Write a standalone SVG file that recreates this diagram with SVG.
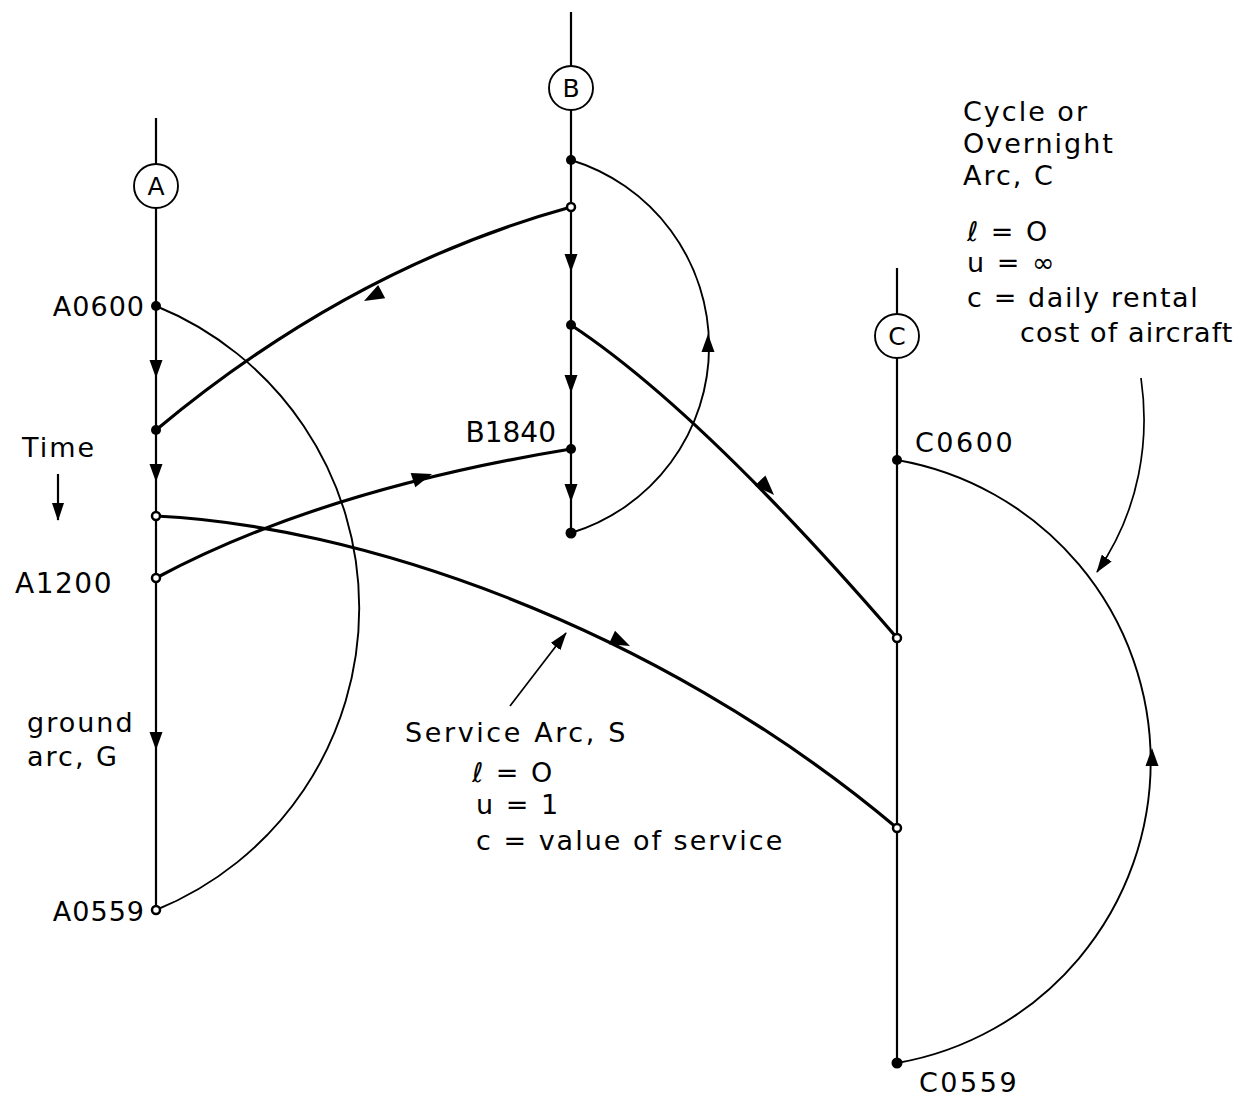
<svg xmlns="http://www.w3.org/2000/svg" xmlns:xlink="http://www.w3.org/1999/xlink" width="1252" height="1097" viewBox="0 0 1252 1097">
<style>
.t{font-family:"DejaVu Sans","Liberation Sans",sans-serif;font-size:27px;fill:#000;letter-spacing:2px}
.g{stroke:#000;stroke-width:2.2;fill:none}
.s{stroke:#000;stroke-width:3.2;fill:none}
.c{stroke:#000;stroke-width:1.9;fill:none}
.p{stroke:#000;stroke-width:1.7;fill:none}
.nf{fill:#000}
.no{fill:#fff;stroke:#000;stroke-width:2.5}
.ci{fill:#fff;stroke:#000;stroke-width:1.9}
.cl{font-size:25px;letter-spacing:0;text-anchor:middle}
</style>
<defs>
<path id="ah" d="M0,0 L-18,-6.5 L-18,6.5 Z" fill="#000"/>
<path id="ahs" d="M0,0 L-20,-7.5 L-20,7.5 Z" fill="#000"/>
<marker id="mk" markerWidth="18" markerHeight="12" refX="17" refY="6" orient="auto" markerUnits="userSpaceOnUse"><path d="M0,0 L18,6 L0,12 Z" fill="#000"/></marker>
</defs>
<rect width="1252" height="1097" fill="#fff"/>
<g id="connectors">
<!-- ground lines -->
<path class="g" d="M156,118 V910"/>
<path class="g" d="M571,12 V533"/>
<path class="g" d="M897,268 V1063"/>
<use xlink:href="#ah" transform="translate(156,378) rotate(90)"/>
<use xlink:href="#ah" transform="translate(156,482) rotate(90)"/>
<use xlink:href="#ah" transform="translate(156,750) rotate(90)"/>
<use xlink:href="#ah" transform="translate(571,272) rotate(90)"/>
<use xlink:href="#ah" transform="translate(571,393) rotate(90)"/>
<use xlink:href="#ah" transform="translate(571,502) rotate(90)"/>
<!-- cycle arcs -->
<path class="c" d="M156,306 A326,326 0 0 1 156,910"/>
<path class="c" d="M571,533 A195,195 0 0 0 571,160"/>
<use xlink:href="#ah" transform="translate(708,334) rotate(-90)"/>
<path class="c" d="M897,1063 A306,306 0 0 0 897,460"/>
<use xlink:href="#ah" transform="translate(1152,748) rotate(-90)"/>
<!-- service arcs -->
<path class="s" d="M571,207 Q350,268 156,430"/>
<use xlink:href="#ahs" transform="translate(364,301) rotate(152)"/>
<path class="s" d="M571,325 Q700,410 897,638"/>
<use xlink:href="#ahs" transform="translate(774,495) rotate(46)"/>
<path class="s" d="M156,578 Q320,490 571,449"/>
<use xlink:href="#ahs" transform="translate(432,474) rotate(-18)"/>
<path class="s" d="M156,516 C350,525 650,620 897,828"/>
<use xlink:href="#ahs" transform="translate(630,646) rotate(25)"/>
<!-- annotation pointers -->
<path class="p" d="M510,706 L566,633" marker-end="url(#mk)"/>
<path class="p" d="M1141,378 C1150,440 1140,510 1097,572" marker-end="url(#mk)"/>
<path class="g" d="M58,474 V520" marker-end="url(#mk)"/>
</g>
<g id="node-A"><circle class="ci" cx="156" cy="186" r="22"/><text class="t cl" x="156" y="195">A</text></g>
<g id="node-B"><circle class="ci" cx="571" cy="88" r="22"/><text class="t cl" x="571" y="97">B</text></g>
<g id="node-C"><circle class="ci" cx="897" cy="336" r="22"/><text class="t cl" x="897" y="345">C</text></g>
<g id="A0600"><circle class="nf" cx="156" cy="306" r="5"/><text class="t" x="145" y="316" style="text-anchor:end;letter-spacing:1px">A0600</text></g>
<g id="A-n2"><circle class="nf" cx="156" cy="430" r="5"/></g>
<g id="A-n3"><circle class="no" cx="156" cy="516" r="4"/></g>
<g id="A1200"><circle class="no" cx="156" cy="578" r="4"/><text class="t" x="113" y="593" style="text-anchor:end;letter-spacing:1.5px;font-size:28px">A1200</text></g>
<g id="A0559"><circle class="no" cx="156" cy="910" r="4"/><text class="t" x="145" y="921" style="text-anchor:end;letter-spacing:1px">A0559</text></g>
<g id="B-n1"><circle class="nf" cx="571" cy="160" r="5"/></g>
<g id="B-n2"><circle class="no" cx="571" cy="207" r="4"/></g>
<g id="B-n3"><circle class="nf" cx="571" cy="325" r="5"/></g>
<g id="B1840"><circle class="nf" cx="571" cy="449" r="5"/><text class="t" x="556" y="442" style="text-anchor:end;letter-spacing:0;font-size:28px">B1840</text></g>
<g id="B-n5"><circle class="nf" cx="571" cy="533" r="5.5"/></g>
<g id="C0600"><circle class="nf" cx="897" cy="460" r="5"/><text class="t" x="915" y="452" style="letter-spacing:2.5px">C0600</text></g>
<g id="C-n2"><circle class="no" cx="897" cy="638" r="4"/></g>
<g id="C-n3"><circle class="no" cx="897" cy="828" r="4"/></g>
<g id="C0559"><circle class="nf" cx="897" cy="1063" r="5.5"/><text class="t" x="919" y="1092" style="letter-spacing:2.5px">C0559</text></g>
<g id="labels">
<text class="t" x="22" y="457">Time</text>
<text class="t" x="27" y="732">ground</text>
<text class="t" x="27" y="766">arc, G</text>
<text class="t" x="405" y="742" style="letter-spacing:2.6px">Service Arc, S</text>
<text class="t" x="472" y="782">ℓ = O</text>
<text class="t" x="476" y="814">u = 1</text>
<text class="t" x="476" y="850">c = value of service</text>
<text class="t" x="963" y="121">Cycle or</text>
<text class="t" x="963" y="153">Overnight</text>
<text class="t" x="963" y="185">Arc, C</text>
<text class="t" x="967" y="241">ℓ = O</text>
<text class="t" x="967" y="272">u = ∞</text>
<text class="t" x="967" y="307" style="letter-spacing:1.6px">c = daily rental</text>
<text class="t" x="1020" y="342" style="letter-spacing:1.1px">cost of aircraft</text>
</g>
</svg>
